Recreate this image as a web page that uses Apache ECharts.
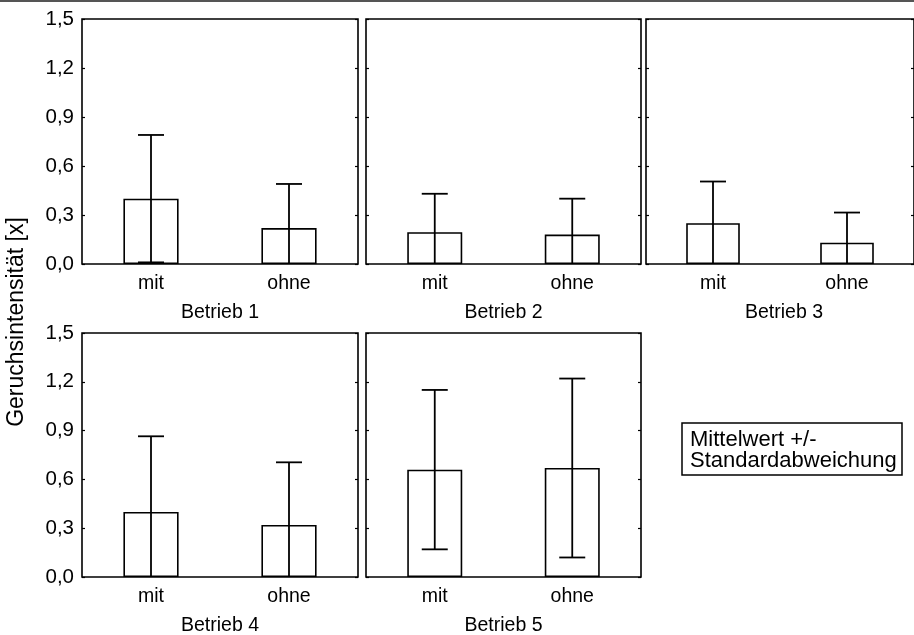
<!DOCTYPE html>
<html>
<head>
<meta charset="utf-8">
<script src="https://cdn.jsdelivr.net/npm/echarts@6/dist/echarts.min.js"></script>
<style>
  html, body { margin: 0; padding: 0; background: #fff; }
  #chart { width: 914px; height: 635px; }
</style>
</head>
<body>
<div id="chart"></div>
<script>
// ---- data ----
const betriebe = ['Betrieb 1', 'Betrieb 2', 'Betrieb 3', 'Betrieb 4', 'Betrieb 5'];
const gruppen = ['mit', 'ohne'];
const mittelMit  = [0.40, 0.195, 0.25, 0.40, 0.66];
const mittelOhne = [0.22, 0.18, 0.13, 0.32, 0.67];
const sdMit  = [0.39, 0.235, 0.255, 0.465, 0.49];
const sdOhne = [0.27, 0.22, 0.185, 0.385, 0.55];
const yTicks = [0.0, 0.3, 0.6, 0.9, 1.2, 1.5];
const yTitle = 'Geruchsintensität [x]';
const legendText = 'Mittelwert +/-\nStandardabweichung';

// ---- layout ----
const FONT = '"Liberation Sans", Arial, Helvetica, sans-serif';
const panels = [
  { left: 82,  top: 19,  width: 276, height: 245, labels: true },
  { left: 366, top: 19,  width: 275, height: 245, labels: false },
  { left: 646, top: 19,  width: 276, height: 245, labels: false },
  { left: 82,  top: 333, width: 276, height: 244, labels: true },
  { left: 366, top: 333, width: 275, height: 244, labels: false }
];

const grid = [], xAxis = [], yAxis = [], series = [], title = [];

panels.forEach((p, i) => {
  grid.push({
    left: p.left, top: p.top, width: p.width, height: p.height,
    show: true, borderColor: '#000', borderWidth: 1.6, backgroundColor: 'transparent'
  });
  xAxis.push({
    type: 'category', gridIndex: i, data: gruppen,
    axisLine: { show: false }, axisTick: { show: false },
    axisLabel: { color: '#000', fontSize: 19.5, fontFamily: FONT, margin: 10 },
    splitLine: { show: false }
  });
  const yBase = {
    type: 'value', gridIndex: i, min: yTicks[0], max: yTicks[yTicks.length - 1], interval: 0.3,
    axisLine: { show: false },
    axisTick: { show: true, inside: true, length: 3, lineStyle: { color: '#000', width: 1.2 } },
    splitLine: { show: false }
  };
  yAxis.push(Object.assign({}, yBase, {
    position: 'left',
    axisLabel: {
      show: p.labels, color: '#000', fontSize: 20.5, fontFamily: FONT, margin: 8,
      formatter: v => v.toFixed(1).replace('.', ',')
    }
  }));
  yAxis.push(Object.assign({}, yBase, {
    position: 'right', axisLabel: { show: false }
  }));
  const means = [mittelMit[i], mittelOhne[i]];
  const sds = [sdMit[i], sdOhne[i]];
  series.push({
    type: 'bar', xAxisIndex: i, yAxisIndex: 2 * i, barWidth: '40%',
    data: means,
    itemStyle: { color: '#fff', borderColor: '#000', borderWidth: 1.6 },
    silent: true
  });
  series.push({
    type: 'custom', xAxisIndex: i, yAxisIndex: 2 * i, z: 5,
    data: means.map((m, k) => [k, m, sds[k]]),
    renderItem: function (params, api) {
      const k = api.value(0), m = api.value(1), s = api.value(2);
      const lowV = Math.max(0, m - s), highV = m + s;
      const hi = api.coord([k, highV]);
      const lo = api.coord([k, lowV]);
      const hw = 13;
      const children = [
        { type: 'line', shape: { x1: hi[0], y1: hi[1], x2: lo[0], y2: lo[1] } },
        { type: 'line', shape: { x1: hi[0] - hw, y1: hi[1], x2: hi[0] + hw, y2: hi[1] } }
      ];
      if (m - s > 0) {
        children.push({ type: 'line', shape: { x1: lo[0] - hw, y1: lo[1], x2: lo[0] + hw, y2: lo[1] } });
      }
      children.forEach(c => { c.style = { stroke: '#000', lineWidth: 1.8 }; });
      return { type: 'group', children: children };
    }
  });
  title.push({
    text: betriebe[i], left: p.left + p.width / 2, top: p.top + p.height + 39,
    textAlign: 'center', padding: 0,
    textStyle: { color: '#000', fontSize: 19.5, fontWeight: 'normal', fontFamily: FONT, lineHeight: 20 }
  });
});

title.push({
  text: legendText, left: 682, top: 423,
  padding: [6, 6, 4, 8], borderColor: '#000', borderWidth: 1.5,
  textStyle: { color: '#000', fontSize: 22, fontWeight: 'normal', fontFamily: FONT, lineHeight: 21 }
});

const chart = echarts.init(document.getElementById('chart'), null, { renderer: 'canvas' });
chart.setOption({
  animation: false,
  backgroundColor: '#fff',
  title: title,
  grid: grid,
  xAxis: xAxis,
  yAxis: yAxis,
  series: series,
  graphic: [
    { type: 'rect', shape: { x: 0, y: 0, width: 914, height: 2 }, style: { fill: '#555' } },
    {
      type: 'text', x: 17, y: 322, rotation: Math.PI / 2,
      style: { text: yTitle, fill: '#000', font: '23px ' + FONT, textAlign: 'center', textVerticalAlign: 'middle' }
    }
  ]
});
</script>
</body>
</html>
